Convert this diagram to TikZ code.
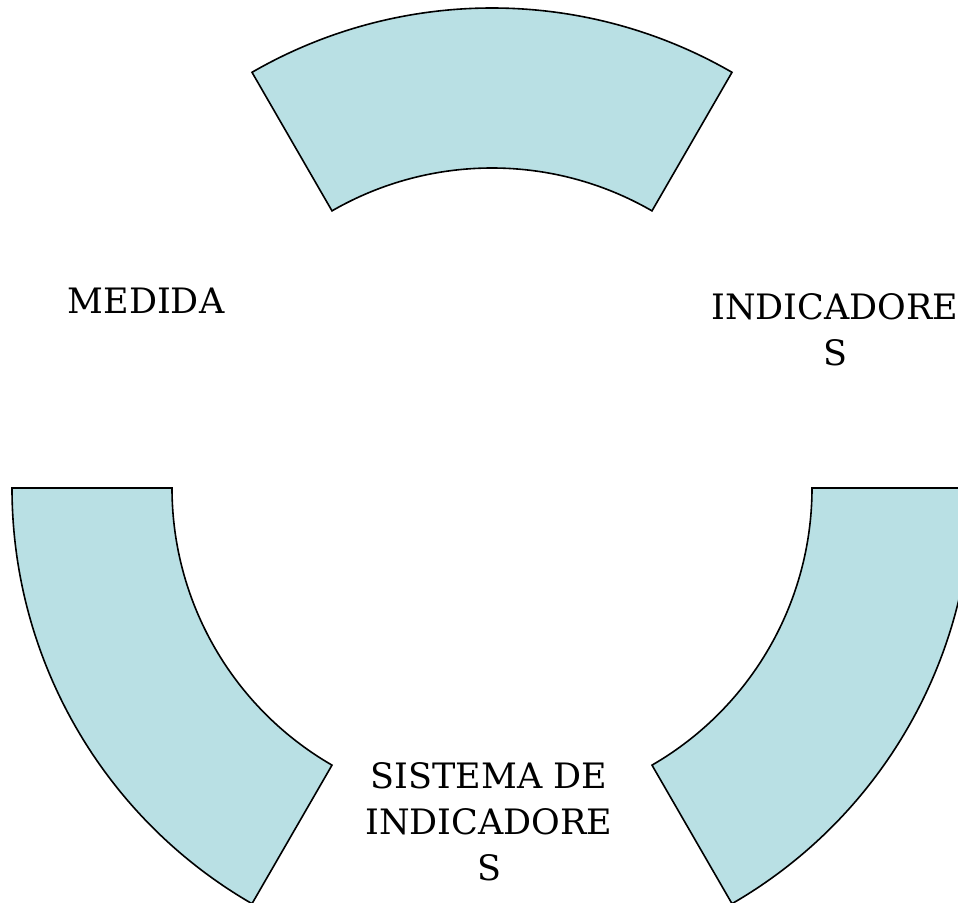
\documentclass[tikz,border=0pt]{standalone}
\usepackage{fontspec}
\setmainfont{DejaVu Serif}
\usepackage{tikz}
\definecolor{segblue}{RGB}{185,224,228}

\begin{document}
\begin{tikzpicture}[x=1pt,y=1pt,
    seg/.style={fill=segblue,draw=black,line width=1.6pt,line join=miter},
    lbl/.style={inner sep=0pt,align=center,font=\fontsize{35}{46}\selectfont}]
  \useasboundingbox (-492,-414) rectangle (466,488);
  \clip (-492,-414) rectangle (466,488);
  % the three pieces of the ring
  \draw[seg] (120:480) arc (120:60:480) -- (60:320) arc (60:120:320) -- cycle;
  \draw[seg] (180:480) arc (180:240:480) -- (240:320) arc (240:180:320) -- cycle;
  \draw[seg] (300:480) arc (300:360:480) -- (0:320) arc (360:300:320) -- cycle;
  % labels in the gaps
  \node[lbl,anchor=north] (medida) at (-346,200) {MEDIDA};
  \node[lbl,anchor=north] (indic) at (343,195) {INDICADORE\\S};
  \node[lbl,anchor=north] (sistema) at (-3,-274) {SISTEMA DE\\INDICADORE\\S};
\end{tikzpicture}
\end{document}
